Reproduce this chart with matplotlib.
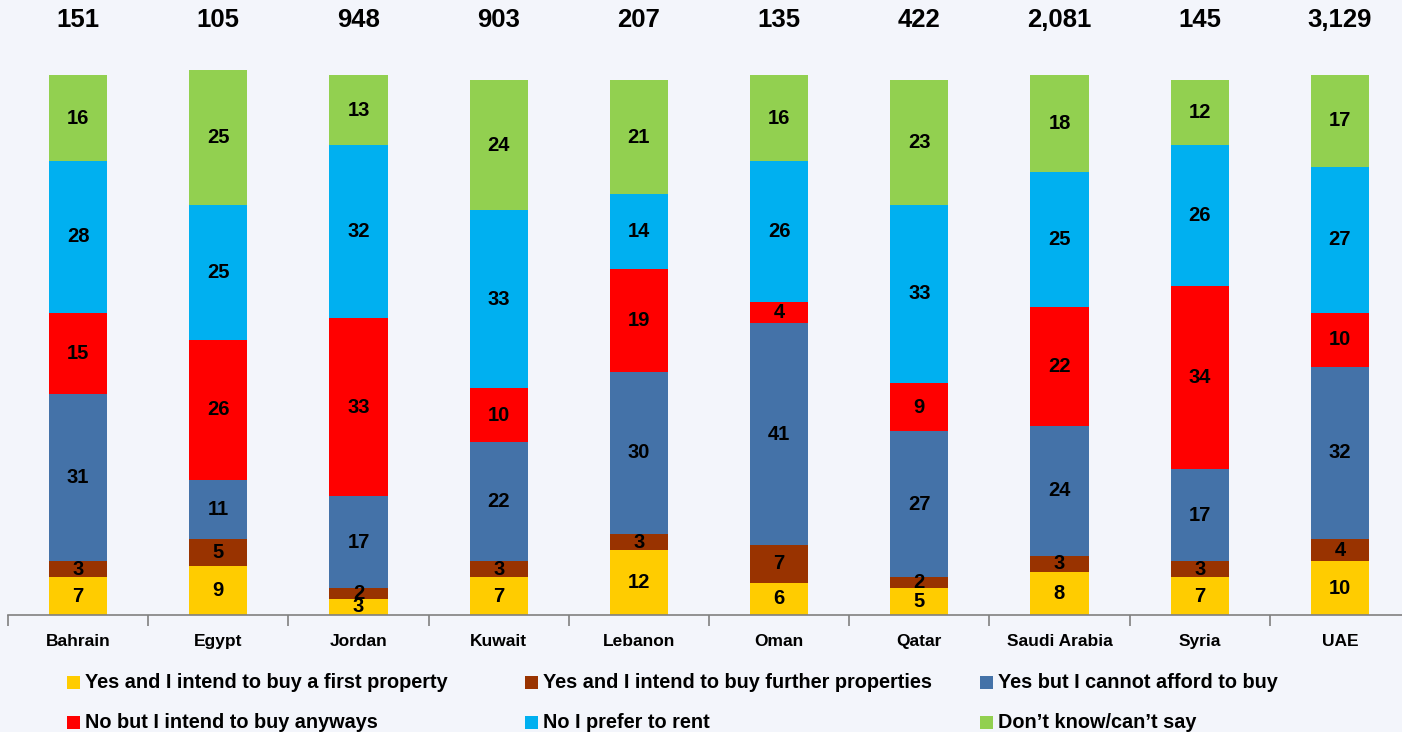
import matplotlib
matplotlib.use("Agg")
import matplotlib.pyplot as plt
import numpy as np
from matplotlib.patches import Rectangle

countries = ["Bahrain", "Egypt", "Jordan", "Kuwait", "Lebanon", "Oman", "Qatar", "Saudi Arabia", "Syria", "UAE"]
sample_sizes = ["151", "105", "948", "903", "207", "135", "422", "2,081", "145", "3,129"]

series_names = ["Yes and I intend to buy a first property",
                "Yes and I intend to buy further properties",
                "Yes but I cannot afford to buy",
                "No but I intend to buy anyways",
                "No I prefer to rent",
                "Don\u2019t know/can\u2019t say"]
first_property = [7, 9, 3, 7, 12, 6, 5, 8, 7, 10]
further_properties = [3, 5, 2, 3, 3, 7, 2, 3, 3, 4]
cannot_afford = [31, 11, 17, 22, 30, 41, 27, 24, 17, 32]
buy_anyways = [15, 26, 33, 10, 19, 4, 9, 22, 34, 10]
prefer_rent = [28, 25, 32, 33, 14, 26, 33, 25, 26, 27]
dont_know = [16, 25, 13, 24, 21, 16, 23, 18, 12, 17]

series = [first_property, further_properties, cannot_afford, buy_anyways, prefer_rent, dont_know]
colors = ["#FFCC00", "#993300", "#4472A8", "#FF0000", "#00B0F0", "#92D050"]

plt.rcParams['font.family'] = ['Liberation Sans', 'DejaVu Sans']

W, H = 1402, 732
fig = plt.figure(figsize=(W / 100, H / 100), dpi=100)
fig.patch.set_facecolor("#F3F5FB")

# axes: left at x=8, baseline at y=615, top at y=0
ax = fig.add_axes([8 / W, (H - 615) / H, (W - 8) / W, 615 / H])
ax.set_facecolor("none")
x = np.arange(len(countries))
bottom = np.zeros(len(countries))
for vals, col in zip(series, colors):
    vals = np.array(vals, dtype=float)
    ax.bar(x, vals, bottom=bottom, width=0.415, color=col, edgecolor="none", zorder=2)
    for xi, b, v in zip(x, bottom, vals):
        ax.text(xi, b + v / 2, f"{int(v)}", ha="center", va="center",
                fontsize=14.5, fontweight="bold", color="black", zorder=3)
    bottom += vals

for xi, s in zip(x, sample_sizes):
    ax.text(xi, 110.2, s, ha="center", va="center", fontsize=18.5, fontweight="bold", color="black")

for s in ["top", "right", "left"]:
    ax.spines[s].set_visible(False)
ax.spines["bottom"].set_color("#808080")
ax.spines["bottom"].set_linewidth(1.2)
ax.set_yticks([])
ax.set_xticks(x)
ax.set_xticklabels(countries, fontsize=12.5, fontweight="bold")
ax.tick_params(axis="x", which="major", length=0, pad=14)
ax.set_xticks(np.arange(-0.5, len(countries), 1.0), minor=True)
ax.tick_params(axis="x", which="minor", length=8, width=1.2, color="#808080", direction="out")
ax.set_xlim(-0.5, -0.5 + (W - 8) / 140.2)
ax.set_ylim(0, 615 / 5.4)

# legend (manual layout: 2 rows x 3 columns)
col_x = [67, 525, 980]
row_y = [682.5, 722]
for i, (name, col) in enumerate(zip(series_names, colors)):
    r, c = divmod(i, 3)
    cx, cy = col_x[c], row_y[r]
    fig.patches.append(Rectangle((cx / W, (H - cy - 6.5) / H), 13 / W, 13 / H,
                                 transform=fig.transFigure, facecolor=col, edgecolor="none"))
    fig.text((cx + 18) / W, (H - cy) / H, name, ha="left", va="center",
             fontsize=14.3, fontweight="bold", color="black")

fig.savefig("out.png", dpi=100, facecolor=fig.get_facecolor())
